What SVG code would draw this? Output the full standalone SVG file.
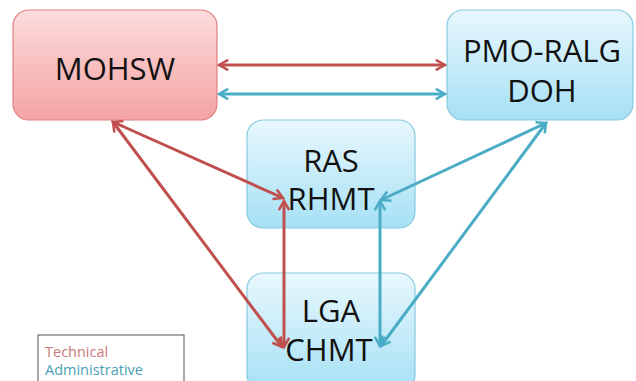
<svg xmlns="http://www.w3.org/2000/svg" width="636" height="381" viewBox="0 0 636 381">
<defs>
<linearGradient id="gRed" x1="0" y1="0" x2="0" y2="1">
<stop offset="0" stop-color="#fcdcdc"/>
<stop offset="1" stop-color="#f5a3a3"/>
</linearGradient>
<linearGradient id="gBlue" x1="0" y1="0" x2="0" y2="1">
<stop offset="0" stop-color="#e8f8fd"/>
<stop offset="1" stop-color="#a6e0f5"/>
</linearGradient>
<marker id="mR" viewBox="0 0 12 12" refX="10" refY="6" markerWidth="4.6" markerHeight="4.6" orient="auto-start-reverse" markerUnits="strokeWidth">
<path d="M2,1.5 L10,6 L2,10.5" fill="none" stroke="#c0504d" stroke-width="2.2" stroke-linejoin="miter"/>
</marker>
<marker id="mB" viewBox="0 0 12 12" refX="10" refY="6" markerWidth="4.6" markerHeight="4.6" orient="auto-start-reverse" markerUnits="strokeWidth">
<path d="M2,1.5 L10,6 L2,10.5" fill="none" stroke="#4bacc6" stroke-width="2.2" stroke-linejoin="miter"/>
</marker>
</defs>
<style>
.lbl{font-family:"Open Sans","Liberation Sans",sans-serif;font-size:31px;fill:#111;text-anchor:middle}
.red{fill:url(#gRed);stroke:#e07f7f;stroke-width:1.2}
.blue{fill:url(#gBlue);stroke:#86c9de;stroke-width:1.2}
.cr{stroke:#c0504d;stroke-width:3;fill:none;marker-start:url(#mR);marker-end:url(#mR)}
.cb{stroke:#4bacc6;stroke-width:3;fill:none;marker-start:url(#mB);marker-end:url(#mB)}
.leg{font-family:"Open Sans","Liberation Sans",sans-serif;font-size:14.5px}
</style>
<rect width="636" height="381" fill="#ffffff"/>
<g id="mohsw">
<rect class="red" x="13" y="10" width="204" height="110" rx="16"/>
<text class="lbl" x="115" y="80">MOHSW</text>
</g>
<g id="pmo">
<rect class="blue" x="447" y="10" width="186" height="110" rx="16"/>
<text class="lbl" x="542" y="62">PMO-RALG</text>
<text class="lbl" x="542" y="102">DOH</text>
</g>
<g id="ras">
<rect class="blue" x="247" y="120" width="168" height="108" rx="16"/>
<text class="lbl" x="331" y="172">RAS</text>
<text class="lbl" x="331" y="210">RHMT</text>
</g>
<g id="lga">
<rect class="blue" x="247" y="273" width="168" height="118" rx="16"/>
<text class="lbl" x="331" y="322">LGA</text>
<text class="lbl" x="329" y="361">CHMT</text>
</g>
<g id="connectors">
<line class="cr" x1="219" y1="65" x2="445" y2="65"/>
<line class="cb" x1="219" y1="94" x2="445" y2="94"/>
<line class="cr" x1="113" y1="122" x2="283" y2="198"/>
<line class="cr" x1="113" y1="122" x2="282" y2="347"/>
<line class="cr" x1="284" y1="201" x2="284" y2="347"/>
<line class="cb" x1="546" y1="123" x2="381" y2="200"/>
<line class="cb" x1="546" y1="123" x2="381" y2="346"/>
<line class="cb" x1="380" y1="201" x2="380" y2="346"/>
</g>
<g id="legend">
<rect x="38" y="335" width="146" height="60" fill="#ffffff" stroke="#555" stroke-width="1"/>
<text class="leg" x="45" y="357" fill="#c9797b">Technical</text>
<text class="leg" x="45" y="375" fill="#4a9fb5">Administrative</text>
</g>
</svg>
